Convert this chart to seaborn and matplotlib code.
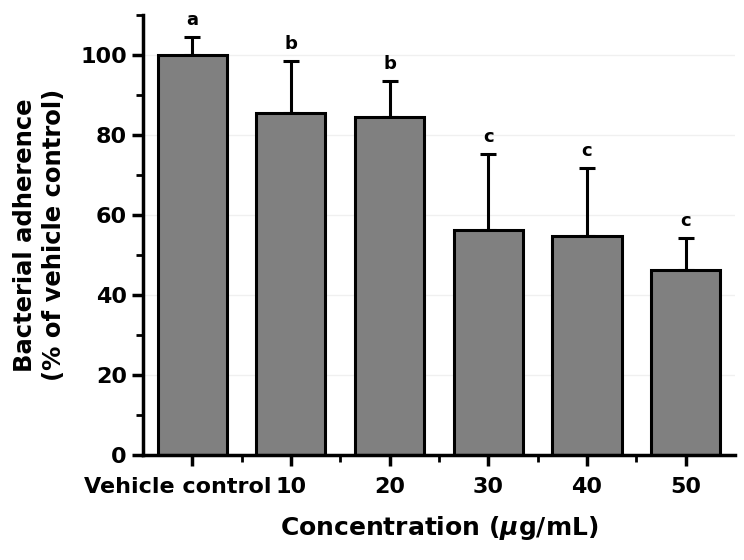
import matplotlib
matplotlib.use("Agg")
import matplotlib.pyplot as plt
import matplotlib.transforms as mtransforms
import seaborn as sns
import pandas as pd
import numpy as np
from matplotlib.ticker import MultipleLocator

categories = ["Vehicle control", "10", "20", "30", "40", "50"]
means = [100.0, 85.5, 84.7, 56.3, 54.8, 46.2]
errors = [4.7, 13.0, 9.0, 18.9, 17.0, 8.2]
letters = ["a", "b", "b", "c", "c", "c"]

sns.set_style("ticks")
plt.rcParams['font.family'] = ['DejaVu Sans']
plt.rcParams['font.weight'] = 'bold'
plt.rcParams['text.color'] = 'black'
plt.rcParams['axes.labelcolor'] = 'black'
plt.rcParams['xtick.color'] = 'black'
plt.rcParams['ytick.color'] = 'black'
plt.rcParams['axes.edgecolor'] = 'black'

df = pd.DataFrame({"cat": categories, "val": means})

fig = plt.figure(figsize=(7.44, 5.6), dpi=100)
ax = fig.add_axes([0.192, 0.1875, 0.796, 0.785])

sns.barplot(data=df, x="cat", y="val", order=categories, color="#808080",
            saturation=1, width=0.7, edgecolor="black", linewidth=2.2, ax=ax, zorder=2)

xpos = np.arange(len(categories))
ax.errorbar(xpos, means, yerr=[np.zeros(len(means)), errors], fmt="none",
            ecolor="black", elinewidth=2.2, capsize=6, capthick=2.2, zorder=1)

for x, m, e, l in zip(xpos, means, errors, letters):
    ax.text(x, m + e + 2.0, l, ha="center", va="bottom", fontsize=13, fontweight="bold")

ax.set_xlim(-0.5, 5.5)
ax.set_ylim(0, 110)
ax.set_yticks([0, 20, 40, 60, 80, 100])
ax.yaxis.set_minor_locator(MultipleLocator(10))
ax.set_xticks(xpos)
ax.set_xticks(xpos[:-1] + 0.5, minor=True)
ax.set_xticklabels(categories)
ax.yaxis.grid(True, color="#f0f0f0", linewidth=1, zorder=0)
ax.set_axisbelow(True)

for s in ["top", "right"]:
    ax.spines[s].set_visible(False)
for s in ["left", "bottom"]:
    ax.spines[s].set_linewidth(2.5)

ax.tick_params(axis="both", which="major", length=8, width=2.5, direction="out")
ax.tick_params(axis="both", which="minor", length=5, width=2, direction="out")
ax.tick_params(axis="x", labelsize=16, pad=8)
ax.tick_params(axis="y", labelsize=16)

# nudge the long first label left so it does not collide with "10"
lbl = ax.get_xticklabels()[0]
lbl.set_transform(lbl.get_transform() + mtransforms.ScaledTranslation(-14 / 100, 0, fig.dpi_scale_trans))

ax.set_xlabel("Concentration ($\\mu$g/mL)", fontsize=18, fontweight="bold", labelpad=12)
ax.set_ylabel("Bacterial adherence\n(% of vehicle control)", fontsize=17.5, fontweight="bold",
              labelpad=10, linespacing=1.3)

fig.savefig("out.png", dpi=100)
